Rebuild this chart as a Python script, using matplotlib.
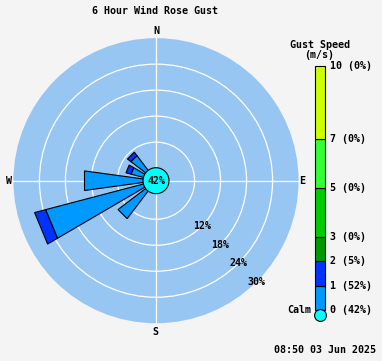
import matplotlib.pyplot as plt
import matplotlib.patches as mpatches
import numpy as np

# data
compass = ['N', 'NNE', 'NE', 'ENE', 'E', 'ESE', 'SE', 'SSE',
           'S', 'SSW', 'SW', 'WSW', 'W', 'WNW', 'NW', 'NNW']
dirs = ['SW', 'WSW', 'W', 'WNW', 'NW']
pct_0_1 = [8.0, 23.2, 13.6, 3.0, 4.3]   # % of time, 0-1 m/s
pct_1_2 = [0.0, 2.6, 0.0, 1.2, 1.0]     # % of time, 1-2 m/s
calm_pct = 42
ring_labels = [12, 18, 24, 30]

speed_bounds = [0, 1, 2, 3, 5, 7, 10]
band_colors = ['#0099ff', '#0033ff', '#009900', '#00cc00', '#33ff33', '#ccff00']
bound_pct = [42, 52, 5, 0, 0, 0, 0]      # shown next to each bound

title = '6 Hour Wind Rose Gust'
stamp = '08:50 03 Jun 2025'

W, H = 382, 361
bg = '#f4f4f4'
disc = '#98c6f3'
font = dict(family='DejaVu Sans Mono', fontweight='bold', fontsize=7.2)

fig = plt.figure(figsize=(W / 100, H / 100), dpi=100, facecolor=bg)


def px(x0, y0, x1, y1):
    return [x0 / W, 1 - y1 / H, (x1 - x0) / W, (y1 - y0) / H]


def ftext(x, y, s, **kw):
    fig.text(x / W, 1 - y / H, s, va='center', **font, **kw)


# rose, units are percent; 1% = 26/6 px
scale = 26 / 6
r0 = 2.9          # calm circle offset
cx, cy, half = 156, 180.7, 150
ax = fig.add_axes(px(cx - half, cy - half, cx + half, cy + half))
lim = half / scale
ax.set_xlim(-lim, lim)
ax.set_ylim(-lim, lim)
ax.set_aspect('equal')
ax.axis('off')


def rad(p):
    return r0 + p


R = rad(30)
ax.add_patch(mpatches.Circle((0, 0), R, color=disc, lw=0, zorder=1))
for p in [6, 12, 18, 24]:
    ax.add_patch(mpatches.Circle((0, 0), rad(p), fill=False, ec='white', lw=0.9, zorder=2))
ax.plot([-R, R], [0, 0], color='white', lw=0.9, zorder=2)
ax.plot([0, 0], [-R, R], color='white', lw=0.9, zorder=2)

half_ang = np.radians(7.8)


def corners(theta, d):
    u = np.array([np.sin(theta), np.cos(theta)])
    v = np.array([np.cos(theta), -np.sin(theta)])
    w = d * np.tan(half_ang)
    return d * u + w * v, d * u - w * v


for name, a, b in zip(dirs, pct_0_1, pct_1_2):
    th = np.radians(compass.index(name) * 22.5)
    p1, p2 = corners(th, rad(a))
    ax.add_patch(mpatches.Polygon([(0, 0), p1, p2], closed=True, fc=band_colors[0],
                                  ec='black', lw=0.8, zorder=3))
    if b > 0:
        q1, q2 = corners(th, rad(a + b))
        ax.add_patch(mpatches.Polygon([p1, q1, q2, p2], closed=True, fc=band_colors[1],
                                      ec='black', lw=0.8, zorder=3))

ax.add_patch(mpatches.Circle((0, 0), 3.0, fc='#00ffff', ec='black', lw=0.8, zorder=4))
ax.text(0, 0, f'{calm_pct}%', ha='center', va='center', zorder=5, **font)
for p in ring_labels:
    d = rad(p) * np.cos(np.radians(45))
    ax.text(d, -d, f'{p}%', ha='center', va='center', zorder=5, **font)

ftext(156, 31, 'N', ha='center')
ftext(155.5, 332, 'S', ha='center')
ftext(9, 181.5, 'W', ha='center')
ftext(302.5, 181.5, 'E', ha='center')
ftext(155.5, 11, title, ha='center')

# speed legend bar
cb = fig.add_axes(px(315, 66, 325, 310))
cb.set_xlim(-0.5, 0.5)
cb.set_ylim(0, 10)
cb.axis('off')
for lo, hi, c in zip(speed_bounds[:-1], speed_bounds[1:], band_colors):
    cb.bar(0, hi - lo, bottom=lo, width=1, color=c, ec='black', lw=0.8, clip_on=False)
cb.plot(0, -0.2, 'o', ms=8.5, mfc='#00ffff', mec='black', mew=0.8, clip_on=False)
tr = cb.get_yaxis_transform()
for v, p in zip(speed_bounds, bound_pct):
    cb.text(1.5, v, f'{v} ({p}%)', transform=tr, ha='left', va='center', **font)
cb.text(-0.4, 0, 'Calm', transform=tr, ha='right', va='center', **font)

ftext(320, 45, 'Gust Speed', ha='center')
ftext(319.5, 55, '(m/s)', ha='center')
ftext(376, 350, stamp, ha='right')

fig.savefig('out.png', dpi=100, facecolor=bg)
